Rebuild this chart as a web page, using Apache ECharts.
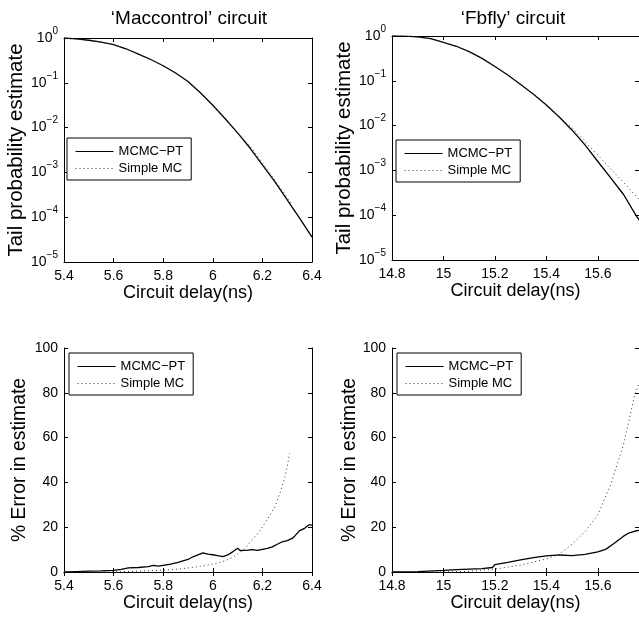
<!DOCTYPE html>
<html>
<head>
<meta charset="utf-8">
<script src="https://cdn.jsdelivr.net/npm/echarts@6/dist/echarts.min.js"></script>
<style>html,body{margin:0;padding:0;background:#fff}#c{width:639px;height:619px}</style>
</head>
<body>
<div id="c"></div>
<script>
// ---------- data ----------
const titles = ["\u2018Maccontrol\u2019 circuit", "\u2018Fbfly\u2019 circuit"];
const seriesNames = ["MCMC\u2212PT", "Simple MC"];
const xName = "Circuit delay(ns)";
const yNameTop = "Tail probability estimate";
const yNameBottom = "% Error in estimate";
const xTicksLeft = [5.4, 5.6, 5.8, 6, 6.2, 6.4];
const xTicksRight = [14.8, 15, 15.2, 15.4, 15.6];
const yTicksError = [0, 20, 40, 60, 80, 100];

// top-left: tail probability, Maccontrol
const tlX = [5.4,5.45,5.5,5.55,5.6,5.65,5.7,5.75,5.8,5.85,5.9,5.95,6.0,6.05,6.1,6.15,6.2,6.25,6.3,6.35,6.4];
const tlMcmc = [1,0.955,0.89,0.81,0.71,0.575,0.437,0.331,0.24,0.166,0.107,0.060,0.0316,0.0158,0.0076,0.0035,0.00148,6.2e-4,2.45e-4,9.5e-5,3.6e-5];
const tlSmcX = [5.4,5.45,5.5,5.55,5.6,5.65,5.7,5.75,5.8,5.85,5.9,5.95,6.0,6.05,6.1,6.15,6.17,6.2,6.25,6.28,6.3,6.32];
const tlSmc = [1,0.955,0.89,0.81,0.71,0.575,0.437,0.331,0.24,0.166,0.107,0.060,0.0316,0.0158,0.0076,0.0038,0.0028,0.00162,6.8e-4,4.0e-4,2.75e-4,1.9e-4];

// top-right: tail probability, Fbfly
const trX = [14.8,14.85,14.9,14.95,15.0,15.05,15.1,15.15,15.2,15.25,15.3,15.35,15.4,15.45,15.5,15.55,15.6,15.65,15.7,15.75,15.8];
const trMcmc = [1,0.99,0.955,0.87,0.72,0.59,0.447,0.316,0.209,0.135,0.083,0.050,0.0288,0.0155,0.0079,0.0037,0.00158,6.8e-4,2.9e-4,9.5e-5,4e-5];
const trSmcX = [14.8,14.85,14.9,14.95,15.0,15.05,15.1,15.15,15.2,15.25,15.3,15.35,15.4,15.45,15.5,15.55,15.6,15.65,15.7,15.75,15.8];
const trSmc = [1,0.99,0.955,0.87,0.72,0.59,0.447,0.316,0.209,0.135,0.083,0.050,0.0288,0.0155,0.0089,0.0044,0.0022,0.00107,5.4e-4,2.6e-4,1.26e-4];

// bottom-left: % error, Maccontrol
const blX = [5.4,5.45,5.5,5.55,5.6,5.63,5.66,5.7,5.74,5.76,5.78,5.8,5.83,5.86,5.9,5.92,5.94,5.96,5.98,6.0,6.02,6.04,6.06,6.08,6.1,6.11,6.14,6.16,6.18,6.2,6.22,6.24,6.26,6.28,6.3,6.32,6.33,6.35,6.37,6.39,6.4];
const blMcmc = [0,0.2,0.4,0.5,0.7,1.2,1.8,2.0,2.4,3.0,2.6,3.0,3.5,4.3,5.6,6.8,7.6,8.5,8.0,7.7,7.3,6.9,7.6,9.0,10.6,9.6,9.8,10.0,9.7,10.1,10.5,11.2,12.4,13.5,14.0,15.0,16.0,18.5,19.5,21.2,20.8];
const blSmcX = [5.4,5.5,5.6,5.65,5.7,5.75,5.8,5.85,5.9,5.95,6.0,6.05,6.08,6.1,6.13,6.16,6.19,6.22,6.25,6.27,6.29,6.3,6.31];
const blSmc = [0,0,0,0.2,0.4,0.6,0.8,1.2,1.8,2.5,3.5,5.0,6.5,8.0,10.5,14.5,18.5,23.5,29,35,42,47,53];

// bottom-right: % error, Fbfly
const brX = [14.8,14.9,15.0,15.05,15.1,15.15,15.19,15.2,15.25,15.3,15.35,15.4,15.45,15.5,15.55,15.6,15.63,15.66,15.7,15.72,15.745,15.76];
const brMcmc = [0,0.2,0.7,1.1,1.3,1.5,2.0,3.3,4.3,5.4,6.4,7.2,7.6,7.3,7.9,9.0,10.1,12.5,16.0,17.4,18.3,18.6];
const brSmcX = [14.8,15.0,15.1,15.2,15.3,15.4,15.45,15.5,15.55,15.6,15.65,15.7,15.72,15.745,15.76];
const brSmc = [0,0,0.3,1.3,3.1,5.8,7.9,12.4,18,25.5,39,57,67,80,84];

// ---------- build ----------
const FONT = "'Liberation Sans', Arial, Helvetica, sans-serif";
const zip = (xs, ys) => xs.map((v, i) => [v, ys[i]]);

const panels = [
  {grid:{left:64, top:38, width:248, height:224}, xmin:5.4, xmax:6.4, xt:xTicksLeft, log:true, yName:yNameTop, yGap:36, yFont:20.5,
   s:[zip(tlX, tlMcmc), zip(tlSmcX, tlSmc)], legend:{left:67, top:138}},
  {grid:{left:392, top:36, width:251, height:224}, xmin:14.8, xmax:15.76, xt:xTicksRight, log:true, yName:yNameTop, yGap:36, yFont:20.5,
   s:[zip(trX, trMcmc), zip(trSmcX, trSmc)], legend:{left:396, top:140}},
  {grid:{left:64, top:348, width:248, height:224}, xmin:5.4, xmax:6.4, xt:xTicksLeft, log:false, yName:yNameBottom, yGap:35, yFont:19.3,
   s:[zip(blX, blMcmc), zip(blSmcX, blSmc)], legend:{left:69, top:353}},
  {grid:{left:392, top:348, width:251, height:224}, xmin:14.8, xmax:15.76, xt:xTicksRight, log:false, yName:yNameBottom, yGap:33, yFont:19.3,
   s:[zip(brX, brMcmc), zip(brSmcX, brSmc)], legend:{left:397, top:353}}
];

const axisLine = {show:true, lineStyle:{color:'#000', width:1}};
const tickStyle = {show:true, inside:true, length:4, lineStyle:{color:'#000', width:1}};

const grid = [], xAxis = [], yAxis = [], series = [], legend = [];
panels.forEach((p, i) => {
  grid.push(Object.assign({containLabel:false, show:false}, p.grid));
  xAxis.push({type:'value', gridIndex:i, min:p.xmin, max:p.xmax, position:'bottom',
    axisLine, axisTick:Object.assign({customValues:p.xt}, tickStyle), splitLine:{show:false},
    axisLabel:{customValues:p.xt, fontSize:14, color:'#000', fontFamily:FONT, margin:7,
      formatter: v => String(+v.toFixed(2))},
    name:xName, nameLocation:'middle', nameGap:22,
    nameTextStyle:{fontSize:18, color:'#000', fontFamily:FONT}});
  xAxis.push({type:'value', gridIndex:i, min:p.xmin, max:p.xmax, position:'top',
    axisLine, axisTick:Object.assign({customValues:p.xt}, tickStyle), splitLine:{show:false},
    axisLabel:{show:false}});
  const yBase = p.log
    ? {type:'log', logBase:10, min:1e-5, max:1}
    : {type:'value', min:0, max:100, interval:20};
  yAxis.push(Object.assign({gridIndex:i, position:'left', axisLine, axisTick:tickStyle, splitLine:{show:false},
    axisLabel: p.log ? {
        fontFamily:FONT, color:'#000', margin:6,
        formatter: v => { const e = Math.round(Math.log10(v)); return '{b|10}{e|' + (e < 0 ? '\u2212' + (-e) : e) + '}'; },
        rich:{ b:{fontSize:14, fontFamily:FONT, color:'#000', lineHeight:24},
               e:{fontSize:10, fontFamily:FONT, color:'#000', lineHeight:10, verticalAlign:'top'} }
      } : {fontSize:14, color:'#000', fontFamily:FONT, margin:6},
    name:p.yName, nameLocation:'middle', nameGap:p.yGap,
    nameTextStyle:{fontSize:p.yFont, color:'#000', fontFamily:FONT}}, yBase));
  yAxis.push(Object.assign({gridIndex:i, position:'right', axisLine, axisTick:tickStyle, splitLine:{show:false},
    axisLabel:{show:false}}, yBase));
  series.push({name:seriesNames[0], type:'line', xAxisIndex:2*i, yAxisIndex:2*i, data:p.s[0],
    symbol:'none', showSymbol:false, animation:false, clip:true,
    lineStyle:{color:'#000', width:1.3, type:'solid'}, itemStyle:{color:'#000'}});
  series.push({name:seriesNames[1], type:'line', xAxisIndex:2*i, yAxisIndex:2*i, data:p.s[1],
    symbol:'none', showSymbol:false, animation:false, clip:true,
    lineStyle:{color:'#333', width:1, type:[1,3]}, itemStyle:{color:'#333'}});
  legend.push({data:seriesNames, orient:'vertical', left:p.legend.left, top:p.legend.top,
    borderColor:'#000', borderWidth:1, backgroundColor:'#fff', borderRadius:0,
    padding:[7,8,5,8], itemWidth:38, itemHeight:14, itemGap:4, selectedMode:false,
    itemStyle:{color:'transparent', borderWidth:0, opacity:0},
    lineStyle:{width:1.1},
    textStyle:{fontSize:13, color:'#000', fontFamily:FONT}});
});

const option = {
  backgroundColor:'#fff',
  animation:false,
  title:[
    {text:titles[0], left:184, top:4, textAlign:'center', textStyle:{fontSize:19, fontWeight:'normal', color:'#000', fontFamily:FONT}},
    {text:titles[1], left:508, top:4, textAlign:'center', textStyle:{fontSize:19, fontWeight:'normal', color:'#000', fontFamily:FONT}}
  ],
  grid, xAxis, yAxis, series, legend
};
const chart = echarts.init(document.getElementById('c'), null, {renderer:'canvas'});
chart.setOption(option);
</script>
</body>
</html>
